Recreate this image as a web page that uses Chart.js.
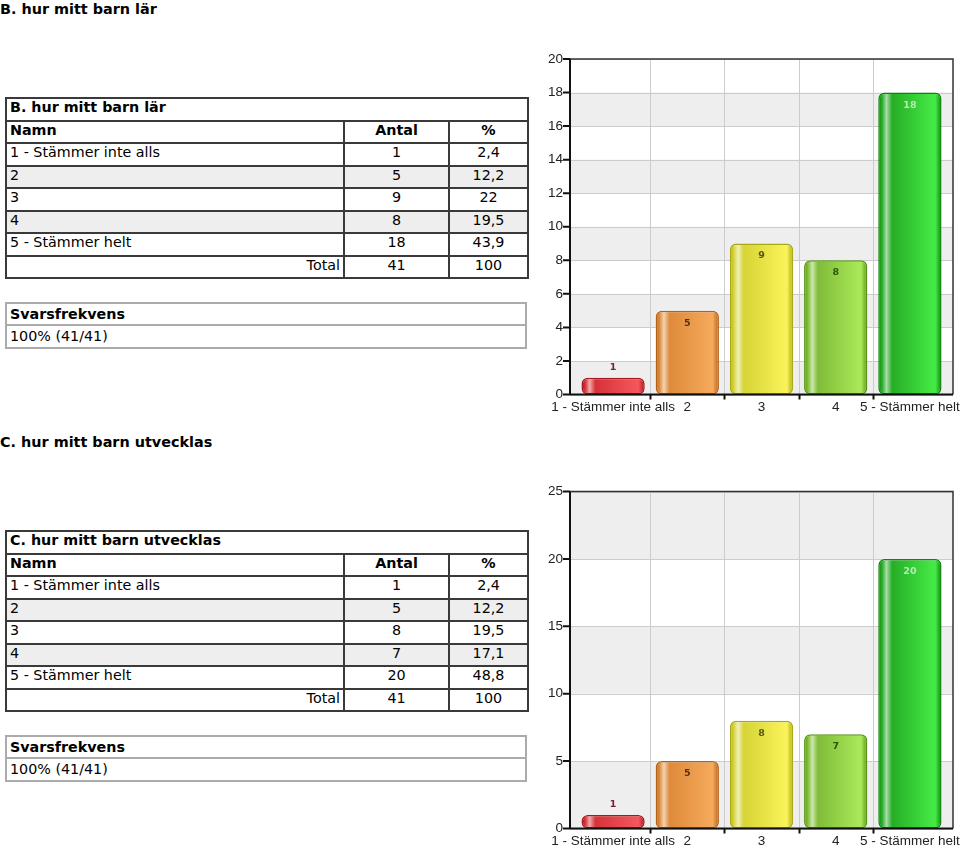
<!DOCTYPE html>
<html>
<head>
<meta charset="utf-8">
<script src="https://cdn.jsdelivr.net/npm/chart.js@4.4.0/dist/chart.umd.min.js"></script>
<style>
html, body { margin: 0; padding: 0; background: #fff; overflow: hidden; }
body { width: 960px; height: 848px; position: relative; font-family: "DejaVu Sans", Verdana, sans-serif; font-size: 14.3px; color: #000; }
.section { position: absolute; left: 0; width: 960px; height: 433px; }
.section h3 { position: absolute; left: 0; top: 0.5px; margin: 0; font-size: 14.4px; line-height: 17px; font-weight: bold; }
table { position: absolute; left: 5px; width: 522px; border-collapse: collapse; table-layout: fixed; }
table.res { top: 97px; }
table.res td, table.res th { border: 2px solid #3a3a3a; padding: 0 3px 3px 3px; line-height: 17px; white-space: nowrap; text-align: left; }
table tr { height: 22.5px; }
table.res tr.alt td { background: #eeeeee; }
table.res .c { text-align: center; }
table.res .r { text-align: right; }
table.svar { top: 301.5px; }
table.svar td { border: 2px solid #ababab; padding: 0 3px; line-height: 18px; }
canvas { position: absolute; left: 530px; }
</style>
</head>
<body>
<div class="section" style="top:0">
  <h3>B. hur mitt barn lär</h3>
  <table class="res" id="tabB"></table>
  <table class="svar" id="svarB"></table>
</div>
<canvas id="chartB" width="430" height="380" style="top:40px"></canvas>

<div class="section" style="top:433px">
  <h3>C. hur mitt barn utvecklas</h3>
  <table class="res" id="tabC"></table>
  <table class="svar" id="svarC"></table>
</div>
<canvas id="chartC" width="430" height="375" style="top:473px"></canvas>

<script>
// answer options (shared by both questions)
const categories = ['1 - Stämmer inte alls', '2', '3', '4', '5 - Stämmer helt'];

// B. hur mitt barn lär
const titleB = 'B. hur mitt barn lär';
const countsB = [1, 5, 9, 8, 18];
const percentB = ['2,4', '12,2', '22', '19,5', '43,9'];
const yMaxB = 20, yStepB = 2;

// C. hur mitt barn utvecklas
const titleC = 'C. hur mitt barn utvecklas';
const countsC = [1, 5, 8, 7, 20];
const percentC = ['2,4', '12,2', '19,5', '17,1', '48,8'];
const yMaxC = 25, yStepC = 5;

const answered = 41, asked = 41;

// bar colours, red -> green
const barEdge  = ['#a8161e', '#b4621a', '#aaa816', '#5a9414', '#0e860e'];
const barMid   = ['#d6323a', '#de8a3a', '#d6d436', '#80bc38', '#26ae26'];
const barLight = ['#f4585c', '#f6aa5c', '#faf45a', '#aaea5a', '#46ec46'];
const barHi    = ['#f0aaaa', '#f2d4b2', '#f0f0b6', '#cce8aa', '#a8dca8'];
const valColor = ['#7a2034', '#5a3210', '#5a5810', '#2c5410', '#b4ecb4'];

const BAR_PCT = 0.853;
const PAD = 6; // plot margin left/right of the category range

function buildTable(id, title, counts, pcts) {
  const total = counts.reduce((a, b) => a + b, 0);
  let html = '<colgroup><col style="width:338px"><col style="width:105px"><col style="width:79px"></colgroup>';
  html += '<tr><th colspan="3">' + title + '</th></tr>';
  html += '<tr><th>Namn</th><th class="c">Antal</th><th class="c">%</th></tr>';
  categories.forEach((c, i) => {
    html += '<tr' + (i % 2 ? ' class="alt"' : '') + '><td>' + c + '</td><td class="c">' + counts[i] + '</td><td class="c">' + pcts[i] + '</td></tr>';
  });
  html += '<tr><td class="r">Total</td><td class="c">' + total + '</td><td class="c">100</td></tr>';
  document.getElementById(id).innerHTML = html;
}

function buildSvar(id) {
  const pct = Math.round(answered / asked * 100);
  document.getElementById(id).innerHTML =
    '<tr><td><b>Svarsfrekvens</b></td></tr><tr><td>' + pct + '% (' + answered + '/' + asked + ')</td></tr>';
}

buildTable('tabB', titleB, countsB, percentB);
buildTable('tabC', titleC, countsC, percentC);
buildSvar('svarB');
buildSvar('svarC');

function barFill(c) {
  const chart = c.chart, xs = chart.scales.x;
  const i = c.dataIndex;
  if (!chart.chartArea || !xs || i === undefined) return barMid[0];
  const cx = xs.getPixelForValue(i);
  const half = xs.width / categories.length * BAR_PCT / 2;
  const g = chart.ctx.createLinearGradient(cx - half, 0, cx + half, 0);
  g.addColorStop(0, barEdge[i]);
  g.addColorStop(0.06, barMid[i]);
  g.addColorStop(0.13, barHi[i]);
  g.addColorStop(0.22, barMid[i]);
  g.addColorStop(0.9, barLight[i]);
  g.addColorStop(1, barEdge[i]);
  return g;
}

const framePlugin = {
  id: 'frame',
  beforeDatasetsDraw(chart) {
    const { ctx, chartArea: a, scales: { x, y } } = chart;
    const L = a.left - PAD, R = a.right + PAD;
    ctx.save();
    // alternating bands, counted from zero
    const ticks = y.ticks;
    ctx.fillStyle = '#eeeeee';
    for (let i = 0; i < ticks.length - 1; i += 2) {
      const y0 = y.getPixelForValue(ticks[i].value);
      const y1 = y.getPixelForValue(ticks[i + 1].value);
      ctx.fillRect(L, y1, R - L, y0 - y1);
    }
    ctx.strokeStyle = '#cccccc';
    ctx.lineWidth = 1;
    ctx.beginPath();
    ticks.forEach(t => {
      const py = Math.round(y.getPixelForValue(t.value)) + 0.5;
      ctx.moveTo(L, py); ctx.lineTo(R, py);
    });
    for (let i = 1; i < categories.length; i++) {
      const px = Math.round((x.getPixelForValue(i - 1) + x.getPixelForValue(i)) / 2) + 0.5;
      ctx.moveTo(px, a.top); ctx.lineTo(px, a.bottom);
    }
    ctx.stroke();
    ctx.restore();
  },
  afterDatasetsDraw(chart) {
    const { ctx, chartArea: a, scales: { x, y } } = chart;
    const L = a.left - PAD, R = a.right + PAD;
    ctx.save();
    // top/right frame
    ctx.strokeStyle = '#333';
    ctx.lineWidth = 1.5;
    ctx.beginPath();
    ctx.moveTo(L, a.top); ctx.lineTo(R, a.top); ctx.lineTo(R, a.bottom);
    ctx.stroke();
    // axes
    ctx.strokeStyle = '#111';
    ctx.lineWidth = 2;
    ctx.beginPath();
    ctx.moveTo(L, a.top); ctx.lineTo(L, a.bottom); ctx.lineTo(R, a.bottom);
    y.ticks.forEach(t => {
      const py = y.getPixelForValue(t.value);
      ctx.moveTo(L - 7, py); ctx.lineTo(L, py);
    });
    for (let i = 1; i < categories.length; i++) {
      const px = Math.round((x.getPixelForValue(i - 1) + x.getPixelForValue(i)) / 2) + 0.5;
      ctx.moveTo(px, a.bottom); ctx.lineTo(px, a.bottom + 5);
    }
    ctx.stroke();
    // value labels
    const meta = chart.getDatasetMeta(0);
    const values = chart.data.datasets[0].data;
    ctx.font = 'bold 9.5px "DejaVu Sans", Verdana, sans-serif';
    ctx.textAlign = 'center';
    ctx.textBaseline = 'middle';
    meta.data.forEach((bar, i) => {
      const h = bar.base - bar.y;
      const ty = h > 26 ? bar.y + 12.5 : bar.y - 10;
      ctx.fillStyle = valColor[i];
      ctx.fillText(String(values[i]), bar.x, ty);
    });
    ctx.restore();
  }
};

const tickFont = { family: '"Liberation Sans", Arial, sans-serif', size: 13.5 };

function makeChart(id, values, yMax, yStep, topPad, xHeight) {
  return new Chart(document.getElementById(id), {
    type: 'bar',
    data: {
      labels: categories,
      datasets: [{
        data: values,
        backgroundColor: barFill,
        borderColor: barEdge,
        borderWidth: 1.5,
        borderRadius: 6,
        borderSkipped: false,
        barPercentage: BAR_PCT,
        categoryPercentage: 1
      }]
    },
    options: {
      responsive: false,
      animation: false,
      events: [],
      layout: { padding: { top: topPad, right: 13, left: 0, bottom: 0 } },
      plugins: { legend: { display: false }, tooltip: { enabled: false } },
      scales: {
        x: {
          offset: true,
          grid: { display: false, drawTicks: false },
          border: { display: false },
          ticks: { autoSkip: false, maxRotation: 0, minRotation: 0, padding: 5, color: '#222', font: tickFont },
          afterFit(s) { s.height = xHeight; s.paddingLeft = 0; s.paddingRight = 0; }
        },
        y: {
          min: 0,
          max: yMax,
          grid: { display: false, drawTicks: false },
          border: { display: false },
          ticks: { stepSize: yStep, padding: 13, color: '#222', font: tickFont },
          afterFit(s) { s.width = 46; s.paddingTop = 0; s.paddingBottom = 0; }
        }
      }
    },
    plugins: [framePlugin]
  });
}

makeChart('chartB', countsB, yMaxB, yStepB, 19, 25.5);
makeChart('chartC', countsC, yMaxC, yStepC, 18.5, 19.5);
</script>
</body>
</html>
